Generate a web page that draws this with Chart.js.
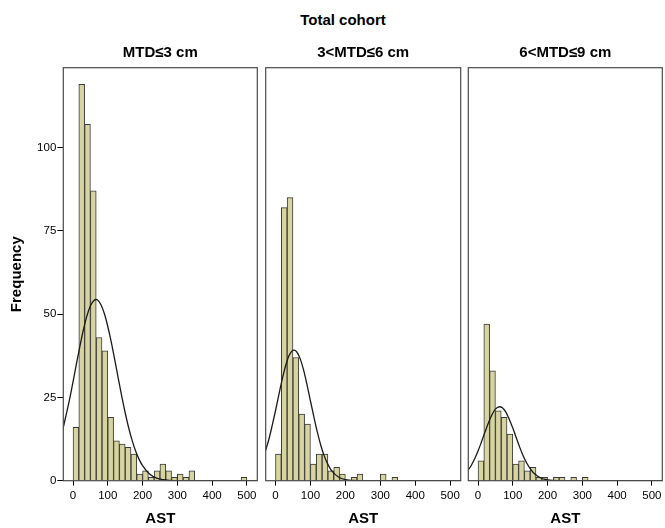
<!DOCTYPE html>
<html><head><meta charset="utf-8">
<script src="https://cdn.jsdelivr.net/npm/chart.js@4.4.0/dist/chart.umd.min.js"></script>
<style>
html,body{margin:0;padding:0;background:#fff;}
body{width:665px;height:528px;position:relative;overflow:hidden;}
canvas{position:absolute;top:30px;}
#sup{position:absolute;left:243px;width:200px;top:12px;text-align:center;font:bold 15px "Liberation Sans",Arial,sans-serif;line-height:16px;color:#000;}
</style></head><body>
<div id="sup">Total cohort</div>
<canvas id="c1" width="262" height="498" style="left:0px"></canvas>
<canvas id="c2" width="202" height="498" style="left:262px"></canvas>
<canvas id="c3" width="201" height="498" style="left:464px"></canvas>
<script>
// ---- data ----
const panelTitles = ['MTD\u22643 cm', '3<MTD\u22646 cm', '6<MTD\u22649 cm'];
const BIN_WIDTH = 500 / 30;               // AST histogram bin width
const astTicks = [0, 100, 200, 300, 400, 500];
const freqTicks = [0, 25, 50, 75, 100];

// frequencies per AST bin (30 bins, 0-500)
const countsSmall  = [16,119,107,87,43,39,19,12,11,10,8,2,3,1,3,5,3,1,2,1,3,0,0,0,0,0,0,0,0,1];
const countsMedium = [8,82,85,37,20,17,5,8,8,3,4,2,0,1,2,0,0,0,2,0,1,0,0,0,0,0,0,0,0,0];
const countsLarge  = [6,47,33,21,19,14,5,6,3,4,1,1,0,1,1,0,1,0,1,0,0,0,0,0,0,0,0,0,0,0];

// normal curves
const curveX1 = [-30,-10,0,10,20,30,40,50,60,66,70,80,90,100,110,120,130,140,150,160,170,180,190,200,220,240,260,280,300,350,530];
const curveY1 = [15.1,24.4,29.7,35.2,40.5,45.4,49.5,52.5,54.1,54.4,54.3,52.9,50.2,46.3,41.6,36.3,30.8,25.4,20.4,15.9,12.1,8.9,6.4,4.5,2.0,0.8,0.3,0.1,0,0,0];
const curveX2 = [-32,-20,-10,0,10,20,30,40,53,60,70,80,90,100,110,120,130,140,150,160,180,200,220,250,530];
const curveY2 = [7.9,12.0,16.3,21.0,26.0,30.8,34.9,37.8,39.2,38.8,36.8,33.4,28.9,24.0,19.1,14.5,10.5,7.3,4.9,3.1,1.1,0.3,0.1,0,0];
const curveX3 = [-30,-20,-10,0,10,20,30,40,50,62,70,80,90,100,110,120,130,140,150,160,180,200,230,260,530];
const curveY3 = [3.0,4.5,6.5,8.9,11.7,14.6,17.4,19.8,21.5,22.2,21.9,20.6,18.4,15.8,12.9,10.0,7.4,5.3,3.6,2.3,0.8,0.25,0,0,0];

const binCenters = countsSmall.map((_, i) => (i + 0.5) * BIN_WIDTH);

const FONT = '"Liberation Sans", Arial, sans-serif';
Chart.defaults.font.family = FONT;

const framePlugin = {
  id: 'frame',
  afterDatasetsDraw(chart) {
    const a = chart.chartArea, ctx = chart.ctx;
    ctx.save();
    ctx.strokeStyle = '#4a4a4a';
    ctx.lineWidth = 1.2;
    ctx.strokeRect(a.left, a.top, a.right - a.left, a.bottom - a.top);
    ctx.restore();
  }
};

function makeChart(id, title, counts, cx, cy, o) {
  return new Chart(document.getElementById(id), {
    data: {
      datasets: [
        { type: 'line', data: cx.map((x, i) => ({ x, y: cy[i] })), borderColor: '#1a1a1a', borderWidth: 1.3,
          pointRadius: 0, cubicInterpolationMode: 'monotone', fill: false, order: 0 },
        { type: 'bar', data: binCenters.map((x, i) => ({ x, y: counts[i] })), backgroundColor: '#d8d4a0',
          borderColor: '#3a3a3a', borderWidth: 1, barPercentage: 1, categoryPercentage: 1,
          borderSkipped: 'start', order: 1 }
      ]
    },
    options: {
      responsive: false, animation: false, devicePixelRatio: 1,
      layout: { padding: { left: o.padL, right: o.padR, top: 0, bottom: 0 } },
      plugins: {
        legend: { display: false }, tooltip: { enabled: false },
        title: { display: true, text: title, fullSize: false, color: '#000',
          font: { family: FONT, size: 15, weight: 'bold', lineHeight: 1.2 },
          padding: { top: 14, bottom: 5.7 } }
      },
      scales: {
        x: {
          type: 'linear', min: -28, max: 530, offset: false,
          afterBuildTicks: s => { s.ticks = astTicks.map(v => ({ value: v })); },
          afterFit: s => { s.height = 47.3; },
          grid: { offset: false, drawOnChartArea: false, drawTicks: true, tickLength: 5, tickColor: '#000', tickWidth: 1 },
          border: { display: false },
          ticks: { color: '#000', font: { size: 11.5 }, padding: 3, autoSkip: false, maxRotation: 0 },
          title: { display: true, text: 'AST', color: '#000', font: { size: 15, weight: 'bold', lineHeight: 1.2 },
            padding: { top: 0, bottom: 0 } }
        },
        y: {
          display: o.showY, min: 0, max: 124,
          afterBuildTicks: s => { s.ticks = freqTicks.map(v => ({ value: v })); },
          afterFit: s => { s.width = o.showY ? 63.3 : 0; },
          grid: { drawOnChartArea: false, drawTicks: true, tickLength: 6, tickColor: '#000', tickWidth: 1 },
          border: { display: false },
          ticks: { color: '#000', font: { size: 11.5 }, padding: 1 },
          title: { display: true, text: 'Frequency', color: '#000', font: { size: 15, weight: 'bold', lineHeight: 1.2 },
            padding: { top: 8, bottom: 0 } }
        }
      }
    },
    plugins: [framePlugin]
  });
}

makeChart('c1', panelTitles[0], countsSmall, curveX1, curveY1, { padL: 0, padR: 4.7, showY: true });
makeChart('c2', panelTitles[1], countsMedium, curveX2, curveY2, { padL: 3.7, padR: 3.3, showY: false });
makeChart('c3', panelTitles[2], countsLarge, curveX3, curveY3, { padL: 4.3, padR: 2.7, showY: false });
</script>
</body></html>
